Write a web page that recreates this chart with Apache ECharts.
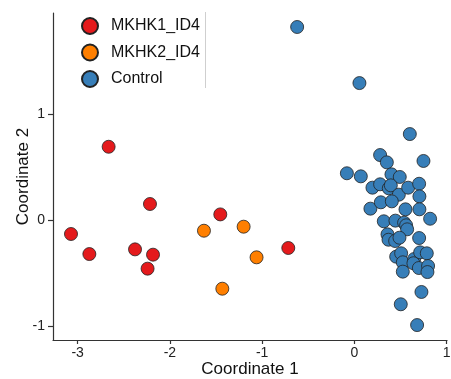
<!DOCTYPE html>
<html>
<head>
<meta charset="utf-8">
<script src="https://cdn.jsdelivr.net/npm/echarts@6/dist/echarts.min.js"></script>
<style>
  html, body { margin: 0; padding: 0; background: #fff; }
  #chart { width: 451px; height: 379px; }
</style>
</head>
<body>
<div id="chart"></div>
<script>
// MDS coordinates per group
const groupNames = ['MKHK1_ID4', 'MKHK2_ID4', 'Control'];
const groupColors = ['#E41A1C', '#FF7F00', '#377EB8'];

const mkhk1X = [-2.664, -3.072, -2.873, -2.378, -2.216, -2.183, -2.242, -1.454, -0.717];
const mkhk1Y = [0.691, -0.132, -0.321, -0.277, 0.151, -0.327, -0.459, 0.053, -0.264];

const mkhk2X = [-1.631, -1.201, -1.061, -1.432];
const mkhk2Y = [-0.101, -0.063, -0.352, -0.648];

const controlX = [-0.621, 0.054, 0.600, 0.278, 0.351, 0.748, -0.082, 0.069, 0.401, 0.491,
  0.195, 0.278, 0.372, 0.394, 0.481, 0.582, 0.701, 0.704, 0.173, 0.286,
  0.405, 0.553, 0.704, 0.820, 0.318, 0.444, 0.538, 0.560, 0.571, 0.358,
  0.369, 0.441, 0.488, 0.701, 0.452, 0.506, 0.524, 0.647, 0.712, 0.784,
  0.639, 0.524, 0.698, 0.798, 0.791, 0.726, 0.502, 0.679];
const controlY = [1.821, 1.292, 0.811, 0.613, 0.544, 0.557, 0.441, 0.412, 0.431, 0.406,
  0.305, 0.337, 0.299, 0.327, 0.239, 0.305, 0.342, 0.223, 0.107, 0.167,
  0.176, 0.101, 0.101, 0.012, -0.012, -0.006, -0.025, -0.050, -0.088, -0.135,
  -0.186, -0.198, -0.167, -0.170, -0.346, -0.314, -0.399, -0.368, -0.305, -0.314,
  -0.408, -0.487, -0.453, -0.434, -0.491, -0.679, -0.795, -0.991];

const xTicks = [-3, -2, -1, 0, 1];
const yTicks = [-1, 0, 1];

const pairs = (xs, ys) => xs.map((x, i) => [x, ys[i]]);
const groupData = [pairs(mkhk1X, mkhk1Y), pairs(mkhk2X, mkhk2Y), pairs(controlX, controlY)];

const FONT = 'Liberation Sans, Arial, sans-serif';

const axisCommon = {
  axisLine: { show: true, onZero: false, lineStyle: { color: '#333', width: 1.2 } },
  splitLine: { show: false },
  nameMoveOverlap: false,
  nameTextStyle: { color: '#111', fontSize: 17, fontFamily: FONT }
};

const chart = echarts.init(document.getElementById('chart'), null, { renderer: 'canvas' });
chart.setOption({
  animation: false,
  backgroundColor: '#fff',
  grid: { left: 53, right: 4, top: 13, bottom: 39, containLabel: false, outerBoundsMode: 'none' },
  xAxis: Object.assign({}, axisCommon, {
    type: 'value',
    min: -3.267, max: 1.003,
    name: 'Coordinate 1', nameLocation: 'middle', nameGap: 21,
    axisTick: { show: true, length: 4, customValues: xTicks, lineStyle: { color: '#333', width: 1.2 } },
    axisLabel: { customValues: xTicks, color: '#222', fontSize: 14, margin: 6,
      fontFamily: FONT, formatter: v => String(v) }
  }),
  yAxis: Object.assign({}, axisCommon, {
    type: 'value',
    min: -1.132, max: 1.953,
    name: 'Coordinate 2', nameLocation: 'middle', nameGap: 21, nameRotate: 90,
    axisTick: { show: true, length: 5, customValues: yTicks, lineStyle: { color: '#333', width: 1.2 } },
    axisLabel: { customValues: yTicks, color: '#222', fontSize: 14, margin: 8,
      fontFamily: FONT, formatter: v => String(v) }
  }),
  legend: {
    orient: 'vertical', left: 76, top: 12,
    itemWidth: 16, itemHeight: 16, itemGap: 8.5,
    icon: 'circle',
    data: groupNames,
    textStyle: { color: '#111', fontSize: 16, fontFamily: FONT, padding: [0, 0, 0, 8] }
  },
  graphic: [{
    type: 'line', z: 10,
    shape: { x1: 205.5, y1: 12, x2: 205.5, y2: 88 },
    style: { stroke: '#cfcfcf', lineWidth: 1 }
  }],
  series: groupNames.map((name, i) => ({
    name: name,
    type: 'scatter',
    data: groupData[i],
    symbol: 'circle',
    symbolSize: 13,
    itemStyle: { color: groupColors[i], borderColor: '#222', borderWidth: 0.8, opacity: 1 }
  }))
});
</script>
</body>
</html>
